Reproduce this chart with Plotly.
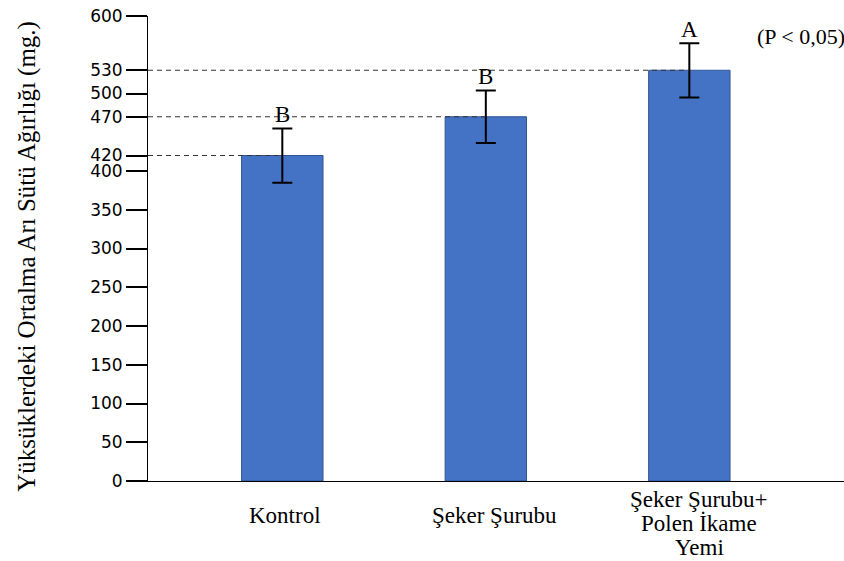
import plotly.graph_objects as go

# Treatment groups and mean royal jelly weight per cup (mg)
groups = ["Kontrol", "Şeker Şurubu", "Şeker Şurubu+\nPolen İkame\nYemi"]
means = [420, 470, 530]
errors = [35, 34, 35]
letters = ["B", "B", "A"]
y_ticks = [0, 50, 100, 150, 200, 250, 300, 350, 400, 420, 470, 500, 530, 600]

x_pos = list(range(len(groups)))
x_min, x_max = -0.66, 2.76

fig = go.Figure()
fig.add_trace(go.Bar(
    x=x_pos, y=means, width=0.40,
    marker=dict(color="#4472C4", line=dict(color="#2F5597", width=1)),
    error_y=dict(type="data", array=errors, visible=True,
                 color="black", thickness=2, width=10),
    hoverinfo="skip",
))

# Dashed reference lines from the axis to each bar's mean
shapes = []
for i, v in zip(x_pos, means):
    shapes.append(dict(type="line", xref="x", yref="y", x0=x_min, x1=i, y0=v, y1=v,
                       line=dict(color="#333333", width=1, dash="5px,4px"), layer="above"))
# Baseline stub to the left of the y axis
shapes.append(dict(type="line", xref="paper", yref="y", x0=-0.026, x1=0, y0=0, y1=0,
                   line=dict(color="black", width=1)))

annotations = []
serif = "Liberation Serif, Times New Roman, serif"
# Significance letters above error bars
for i, (v, e, t) in enumerate(zip(means, errors, letters)):
    annotations.append(dict(x=i, y=v + e, xref="x", yref="y", text=t, showarrow=False,
                            yanchor="bottom", yshift=-1,
                            font=dict(family=serif, size=23, color="black")))
annotations.append(dict(x=2.51, y=600, xref="x", yref="y", text="(P < 0,05)", showarrow=False,
                        xanchor="center", yanchor="middle", yshift=-20, xshift=8,
                        font=dict(family=serif, size=22, color="black")))
# Category labels under the bars, one annotation per text line
label_xshift = [3, 9, 10]
for i, g in enumerate(groups):
    parts = g.split("\n")
    top = -34 if len(parts) == 1 else -18
    for k, line in enumerate(parts):
        annotations.append(dict(x=i, y=0, xref="x", yref="y", text=line, showarrow=False,
                                xanchor="center", yanchor="middle", borderpad=0,
                                xshift=label_xshift[i], yshift=top - 24 * k,
                                font=dict(family=serif, size=23, color="black")))
# Y axis title
annotations.append(dict(x=-0.174, y=0.484, xref="paper", yref="paper",
                        text="Yüksüklerdeki Ortalma Arı Sütü Ağırlığı (mg.)",
                        textangle=-90, showarrow=False, xanchor="center", yanchor="middle",
                        font=dict(family=serif, size=25, color="black")))

fig.update_layout(
    width=844, height=561,
    margin=dict(l=148, r=0, t=16, b=80),
    plot_bgcolor="white", paper_bgcolor="white",
    showlegend=False,
    shapes=shapes, annotations=annotations,
    xaxis=dict(range=[x_min, x_max], showticklabels=False, ticks="",
               showgrid=False, zeroline=False, showline=True,
               linecolor="black", linewidth=1),
    yaxis=dict(range=[0, 600], tickvals=y_ticks, ticktext=[str(v) for v in y_ticks],
               ticks="outside", ticklen=21, tickwidth=1.6, tickcolor="black",
               showgrid=False, zeroline=False, showline=True,
               linecolor="black", linewidth=1,
               tickfont=dict(family="DejaVu Sans, Verdana, sans-serif", size=17, color="black")),
)

fig.write_html("out.html")
